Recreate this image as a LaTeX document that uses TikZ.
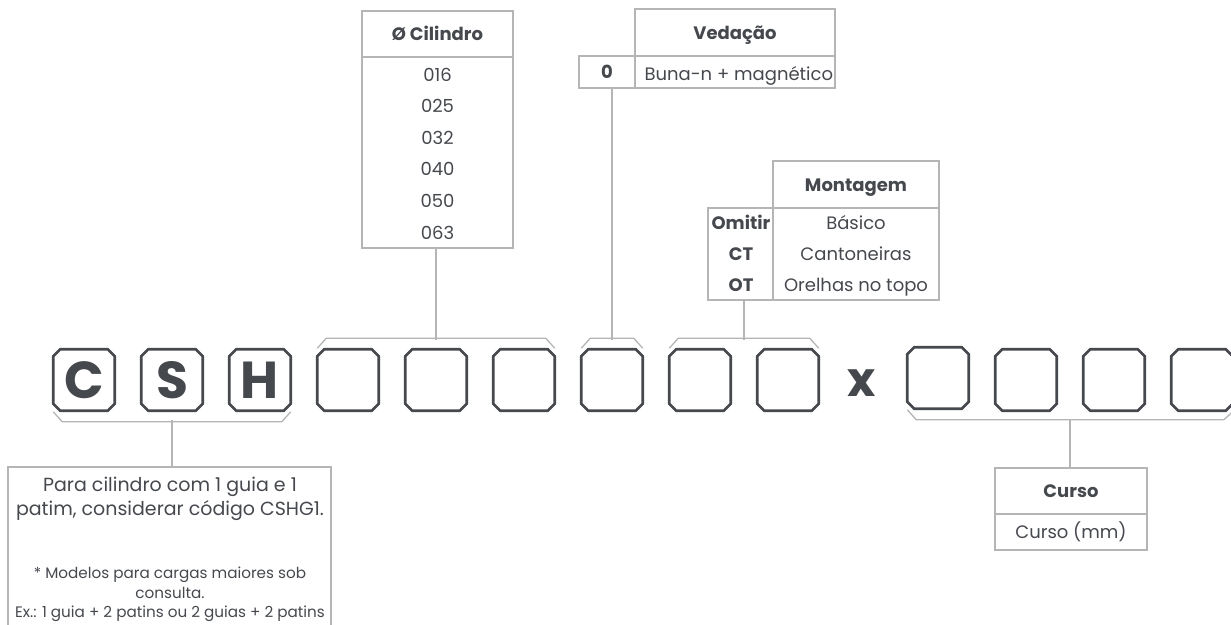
\documentclass[tikz,border=0pt]{standalone}
\usepackage{fontspec}
\setmainfont{Poppins}
\usetikzlibrary{positioning,calc}

\definecolor{inkgray}{HTML}{45484D}
\definecolor{rulegray}{HTML}{B5B5B5}

\tikzset{
    digitbox/.style={rectangle, minimum width=61.5pt, minimum height=61.5pt,
        inner sep=0pt, outer sep=0pt,
        text=inkgray, font=\fontsize{52}{52}\selectfont\bfseries},
    boxline/.style={draw=inkgray, line width=2.6pt, line join=miter},
    cell/.style={draw=rulegray, line width=1.2pt, anchor=north west,
        inner sep=0pt, outer sep=0pt, text=inkgray,
        text height=13.3pt, text depth=0pt},
    head/.style={text=inkgray, font=\fontsize{18}{22}\selectfont\bfseries},
    entry/.style={text=inkgray, font=\fontsize{18}{22}\selectfont},
    link/.style={draw=rulegray, line width=1.3pt},
}

\begin{document}
\begin{tikzpicture}[x=1pt,y=-1pt]
    \useasboundingbox (0,0) rectangle (1231,624);
    \clip (0,0) rectangle (1231,624);

    % Outline of a code box with cut corners
    \def\chamferbox#1{
        \draw[boxline] ([xshift=7pt]#1.north west) -- ([xshift=-7pt]#1.north east)
            -- ([yshift=-7pt]#1.north east) -- ([yshift=7pt]#1.south east)
            -- ([xshift=-7pt]#1.south east) -- ([xshift=7pt]#1.south west)
            -- ([yshift=7pt]#1.south west) -- ([yshift=-7pt]#1.north west) -- cycle;
    }
    % Bracket over a run of boxes, #3 is the middle of its top line
    \def\topbracket#1#2#3{
        \coordinate (#3l) at (#1.west |- #1.north);
        \coordinate (#3r) at (#2.east |- #2.north);
        \draw[link] ([yshift=1pt]#3l) -- ++(9,-10) coordinate (#3a)
            -- ($(#3r |- #3a)+(-9,0)$) -- ([yshift=1pt]#3r);
        \coordinate (#3) at ($(#3l)!0.5!(#3r)+(0,-9)$);
    }
    % Bracket under a run of boxes
    \def\botbracket#1#2#3{
        \coordinate (#3l) at (#1.west |- #1.south);
        \coordinate (#3r) at (#2.east |- #2.south);
        \draw[link] ([yshift=-1pt]#3l) -- ++(9,10) coordinate (#3a)
            -- ($(#3r |- #3a)+(-9,0)$) -- ([yshift=-1pt]#3r);
        \coordinate (#3) at ($(#3l)!0.5!(#3r)+(0,9)$);
    }

    % The code boxes
    \foreach \i/\t in {1/C,2/S,3/H,4/,5/,6/,7/,8/,9/} {
        \node[digitbox] (b\i) at ({84+88*(\i-1)},380) {\t};
        \chamferbox{b\i}
    }
    \node[text=inkgray, font=\fontsize{48}{48}\selectfont\bfseries] (times) at (862,383) {x};
    \node[digitbox] (r1) at (938,378) {};
    \chamferbox{r1}
    \foreach \i in {2,3,4} {
        \node[digitbox] (r\i) at ({938+88*(\i-1)},380) {};
        \chamferbox{r\i}
    }

    \botbracket{b1}{b3}{csh}
    \topbracket{b4}{b6}{bore}
    \topbracket{b7}{b7}{seal}
    \topbracket{b8}{b9}{mount}
    \botbracket{r1}{r4}{stroke}

    % Cilindro
    \node[cell, head, minimum width=151pt, minimum height=46pt] (cilhead) at (362,11) {Ø Cilindro};
    \node[cell, minimum width=151pt, minimum height=191pt] (cilbody) at (cilhead.south west) {};
    \foreach \v [count=\k from 0] in {016,025,032,040,050,063}
        \node[entry, anchor=base] (cil\k) at (437.5,{81+31.6*\k}) {\v};
    \draw[link] (cilbody.south -| bore) -- (bore);

    % Vedacao
    \node[cell, head, minimum width=200pt, minimum height=47pt] (vedhead) at (635,9) {Vedação};
    \node[cell, head, minimum width=56pt, minimum height=32pt] (vedcode) at (579,56) {0};
    \node[cell, minimum width=200pt, minimum height=32pt] (vedval) at (vedhead.south west) {};
    \node[entry, anchor=base west] (vedtxt) at (641,80) {Buna-n + magnético};
    \draw[link] (vedcode.south -| seal) -- (seal);

    % Montagem
    \node[cell, head, minimum width=166pt, minimum height=47pt] (monhead) at (773,161) {Montagem};
    \node[cell, minimum width=65pt, minimum height=92pt] (moncode) at (708,208) {};
    \node[cell, minimum width=166pt, minimum height=92pt] (monval) at (monhead.south west) {};
    \foreach \c/\v [count=\k from 0] in {Omitir/Básico,CT/Cantoneiras,OT/Orelhas no topo} {
        \node[head, anchor=base] (monc\k) at (741,{229.5+31.2*\k}) {\c};
        \node[entry, anchor=base] (monv\k) at (856,{229.5+31.2*\k}) {\v};
    }
    \draw[link] (moncode.south -| mount) -- (mount);

    % Curso
    \node[cell, head, minimum width=152pt, minimum height=46pt] (curhead) at (995,468) {Curso};
    \node[cell, entry, minimum width=152pt, minimum height=36pt] (curval) at (curhead.south west) {Curso (mm)};
    \draw[link] (stroke) -- (curhead.north -| stroke);

    % Note under CSH
    \node[cell, minimum width=323pt, minimum height=200pt] (note) at (8,467) {};
    \foreach \l/\s/\y [count=\k] in {%
        {Para cilindro com 1 guia e 1}/19/491,
        {patim, considerar código CSHG1.}/19/515,
        {* Modelos para cargas maiores sob}/15.2/578,
        {consulta.}/15.2/598,
        {Ex.: 1 guia + 2 patins ou 2 guias + 2 patins}/15.2/617}
        \node[text=inkgray, font=\fontsize{\s}{\s}\selectfont, anchor=base] (note\k) at (170,\y) {\l};
    \draw[link] (csh) -- (note.north -| csh);
\end{tikzpicture}
\end{document}
